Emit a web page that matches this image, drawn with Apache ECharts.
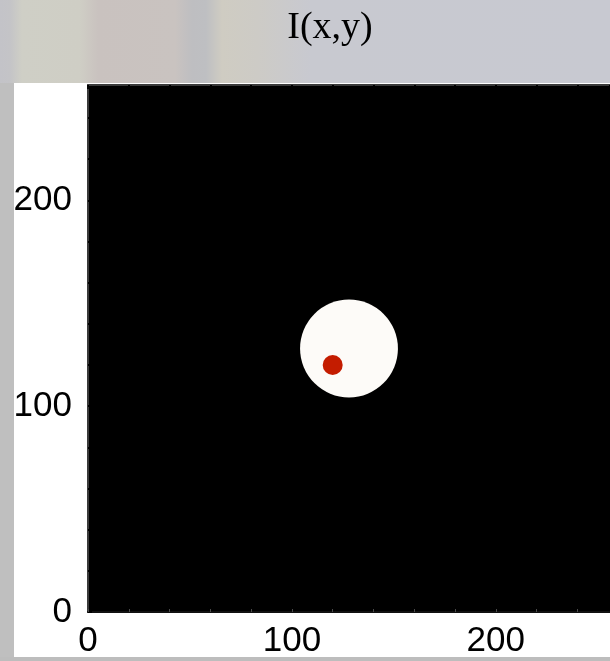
<!DOCTYPE html>
<html>
<head>
<meta charset="utf-8">
<title>I(x,y)</title>
<script src="https://cdn.jsdelivr.net/npm/echarts@6/dist/echarts.min.js"></script>
<style>
  html, body { margin: 0; padding: 0; }
  body {
    width: 610px; height: 661px; overflow: hidden; position: relative;
    background: linear-gradient(to right,
      #c3c3c8 0px, #c4c4c7 10px,
      #cfcfc6 22px, #cfcec5 80px,
      #c9c2bf 98px, #c9c3c0 175px,
      #bebec1 192px, #bebfc2 206px,
      #cfccc2 222px, #cdcbc6 258px,
      #c8c9d0 310px, #c8c9d1 610px);
  }
  #strip { position: absolute; left: 0; top: 83px; width: 14px; height: 578px; background: #bfbfbf; }
  #floor { position: absolute; left: 0; top: 657px; width: 610px; height: 4px; background: #bdbdbd; }
  #panel { position: absolute; left: 14px; top: 83px; width: 596px; height: 574px; background: #ffffff; }
  #chart { position: absolute; left: 0; top: 0; width: 610px; height: 661px; }
</style>
</head>
<body>
<div id="strip"></div>
<div id="panel"></div>
<div id="floor"></div>
<div id="chart"></div>
<script>
// Image extent (pixels) and tick settings
const imageSize = [256];
const tickStep = [20];
const labelledTicks = [0, 100, 200];

// Bright disc in the intensity image: centre (x, y) and radius
const discCenter = [128, 128];
const discRadius = [24];

// Marked point inside the disc
const spotPoint = [[120, 120]];

const chart = echarts.init(document.getElementById('chart'), null, { renderer: 'canvas' });

const labelFont = {
  fontFamily: '"Liberation Sans", Arial, Helvetica, sans-serif',
  fontSize: 35,
  color: '#000'
};

function baseAxis(extra) {
  return Object.assign({
    type: 'value',
    min: 0,
    max: imageSize[0],
    interval: tickStep[0],
    splitLine: { show: false },
    axisLine: { show: true, onZero: false, lineStyle: { color: '#3a3a3a', width: 2 } },
    axisTick: { show: true, inside: true, length: 4, lineStyle: { color: '#000', width: 2 } }
  }, extra);
}

const tickFormatter = v => (labelledTicks.indexOf(v) >= 0 ? String(v) : '');

chart.setOption({
  animation: false,
  backgroundColor: 'transparent',
  title: {
    text: 'I(x,y)',
    left: 325,
    top: 4,
    textAlign: 'center',
    textStyle: {
      fontFamily: '"Liberation Serif", "Times New Roman", serif',
      fontWeight: 'normal',
      fontSize: 38,
      color: '#000'
    }
  },
  grid: {
    left: 88,
    top: 85,
    width: 527,
    height: 527,
    show: true,
    backgroundColor: '#000',
    borderWidth: 0
  },
  xAxis: [
    baseAxis({
      position: 'bottom',
      axisLine: { show: true, onZero: false, lineStyle: { color: '#111', width: 2 } },
      axisTick: { show: true, inside: true, length: 3, lineStyle: { color: '#4a4a4a', width: 1 } },
      axisLabel: Object.assign({ margin: 12, formatter: tickFormatter, showMaxLabel: false }, labelFont)
    }),
    baseAxis({
      position: 'top',
      axisLabel: { show: false }
    })
  ],
  yAxis: [
    baseAxis({
      position: 'left',
      axisLabel: Object.assign({ margin: 16, formatter: tickFormatter, showMaxLabel: false }, labelFont)
    })
  ],
  series: [
    {
      type: 'custom',
      xAxisIndex: 0,
      yAxisIndex: 0,
      data: [[discCenter[0], discCenter[1], discRadius[0]]],
      renderItem: function (params, api) {
        const c = api.coord([api.value(0), api.value(1)]);
        const s = api.size([api.value(2), api.value(2)]);
        return {
          type: 'circle',
          shape: { cx: c[0], cy: c[1], r: s[0] },
          style: { fill: '#fdfbf8' }
        };
      },
      z: 2
    },
    {
      type: 'scatter',
      xAxisIndex: 0,
      yAxisIndex: 0,
      data: spotPoint,
      symbol: 'circle',
      symbolSize: 20,
      itemStyle: { color: '#c41c00', opacity: 1 },
      z: 3
    }
  ]
});
</script>
</body>
</html>
